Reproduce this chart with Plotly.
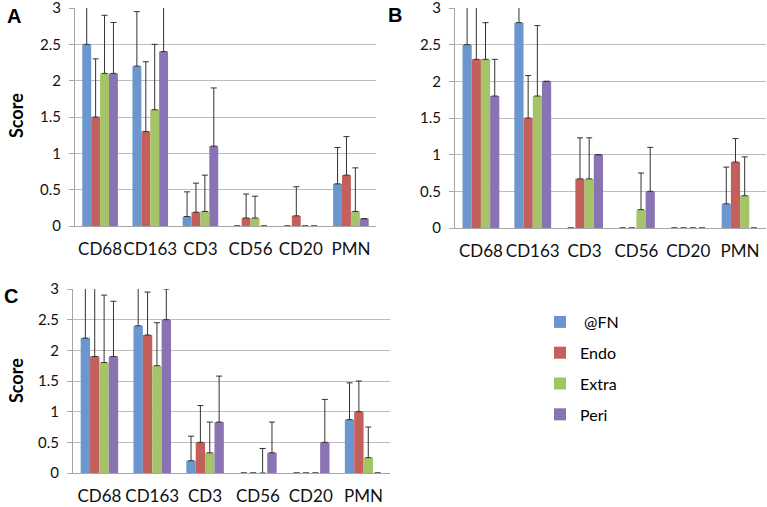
import plotly.graph_objects as go

categories = ["CD68", "CD163", "CD3", "CD56", "CD20", "PMN"]
series_names = [" @FN", "Endo", "Extra", "Peri"]
y_ticks = [0, 0.5, 1, 1.5, 2, 2.5, 3]
y_tick_labels = ["0", "0.5", "1", "1.5", "2", "2.5", "3"]

# Panel A: values and upper error
a_fn = [2.5, 2.2, 0.13, 0, 0, 0.58]
a_endo = [1.5, 1.3, 0.19, 0.11, 0.14, 0.7]
a_extra = [2.1, 1.6, 0.2, 0.11, 0, 0.2]
a_peri = [2.1, 2.4, 1.1, 0, 0, 0.1]
a_fn_err = [0.7, 0.75, 0.34, 0, 0, 0.5]
a_endo_err = [0.8, 0.96, 0.4, 0.33, 0.4, 0.53]
a_extra_err = [0.8, 0.9, 0.5, 0.3, 0, 0.6]
a_peri_err = [0.7, 0.8, 0.8, 0, 0, 0]

# Panel B
b_fn = [2.5, 2.8, 0, 0, 0, 0.33]
b_endo = [2.3, 1.5, 0.67, 0, 0, 0.9]
b_extra = [2.3, 1.8, 0.67, 0.25, 0, 0.44]
b_peri = [1.8, 2.0, 1.0, 0.5, 0, 0]
b_fn_err = [0.7, 0.5, 0, 0, 0, 0.5]
b_endo_err = [0.8, 0.58, 0.56, 0, 0, 0.32]
b_extra_err = [0.5, 0.96, 0.56, 0.5, 0, 0.53]
b_peri_err = [0.5, 0, 0, 0.6, 0, 0]

# Panel C
c_fn = [2.2, 2.4, 0.2, 0, 0, 0.87]
c_endo = [1.9, 2.25, 0.5, 0, 0, 1.0]
c_extra = [1.8, 1.75, 0.33, 0, 0, 0.25]
c_peri = [1.9, 2.5, 0.83, 0.33, 0.5, 0]
c_fn_err = [0.9, 0.7, 0.4, 0, 0, 0.6]
c_endo_err = [1.2, 0.7, 0.6, 0, 0, 0.5]
c_extra_err = [1.1, 0.7, 0.5, 0.4, 0, 0.5]
c_peri_err = [0.9, 0.5, 0.75, 0.5, 0.7, 0]

colors = ["#6B96CE", "#C4605B", "#A5C46A", "#8A73B2"]

panels = [
    ("x", "y", [a_fn, a_endo, a_extra, a_peri], [a_fn_err, a_endo_err, a_extra_err, a_peri_err], True),
    ("x2", "y2", [b_fn, b_endo, b_extra, b_peri], [b_fn_err, b_endo_err, b_extra_err, b_peri_err], False),
    ("x3", "y3", [c_fn, c_endo, c_extra, c_peri], [c_fn_err, c_endo_err, c_extra_err, c_peri_err], False),
]

fig = go.Figure()
for xa, ya, vals, errs, show in panels:
    for i, name in enumerate(series_names):
        fig.add_trace(go.Bar(
            x=categories, y=vals[i], name=name, xaxis=xa, yaxis=ya,
            marker=dict(color=colors[i], line=dict(width=0)),
            error_y=dict(type="data", array=errs[i], arrayminus=[0] * len(errs[i]),
                         symmetric=False, color="#333333", thickness=1, width=3),
            showlegend=show, legendgroup=name,
        ))

FONT = "Lato, 'Open Sans', sans-serif"
yax = dict(range=[0, 3], tickvals=y_ticks, ticktext=y_tick_labels, showgrid=True,
           gridcolor="#BDBDBD", gridwidth=1, showline=True, linecolor="#A6A6A6",
           ticks="outside", ticklen=5, tickcolor="#A6A6A6", zeroline=False,
           tickfont=dict(family=FONT, size=15, color="#111"), ticklabelstandoff=5,
           ticklabeloverflow="allow", fixedrange=True, automargin=False)
xax = dict(showline=True, linecolor="#A6A6A6", ticks="", showgrid=False, tickangle=0,
           tickfont=dict(family=FONT, size=17, color="#111"), ticklabelstandoff=8,
           ticklabeloverflow="allow", automargin=False, fixedrange=True)

W, H = 767, 507
def dx(a, b):
    return [a / W, b / W]
def dy(top, bottom):
    return [1 - bottom / H, 1 - top / H]

fig.update_layout(
    width=W, height=H, margin=dict(l=0, r=0, t=0, b=0, autoexpand=False),
    paper_bgcolor="white", plot_bgcolor="white",
    barmode="group", bargap=0.29, bargroupgap=0,
    xaxis=dict(domain=dx(75, 376), anchor="y", **xax),
    yaxis=dict(domain=dy(8, 226), anchor="x", **yax),
    xaxis2=dict(domain=dx(455, 766), anchor="y2", **xax),
    yaxis2=dict(domain=dy(8, 228), anchor="x2", **yax),
    xaxis3=dict(domain=dx(73, 390), anchor="y3", **xax),
    yaxis3=dict(domain=dy(289, 473), anchor="x3", **yax),
    legend=dict(x=540 / W, y=1 - 305 / H, xanchor="left", yanchor="top",
                font=dict(family=FONT, size=16, color="#000"),
                tracegroupgap=7, itemwidth=30, bgcolor="rgba(0,0,0,0)"),
    showlegend=True,
)

ann_font = dict(family="Liberation Sans, Arial, sans-serif", size=20, color="black")
for txt, x, y in [("<b>A</b>", 14, 16), ("<b>B</b>", 395, 15), ("<b>C</b>", 11, 296)]:
    fig.add_annotation(text=txt, x=x / W, y=1 - y / H, xref="paper", yref="paper",
                       showarrow=False, font=ann_font, xanchor="center", yanchor="middle")
for y in [116, 381]:
    fig.add_annotation(text="<b>Score</b>", x=16 / W, y=1 - y / H, xref="paper", yref="paper",
                       showarrow=False, textangle=-90,
                       font=dict(family=FONT, size=18, color="black"),
                       xanchor="center", yanchor="middle")

fig.write_html("out.html", config={"displayModeBar": False},
               post_script="document.body.style.margin='0';document.body.style.overflow='hidden';")
